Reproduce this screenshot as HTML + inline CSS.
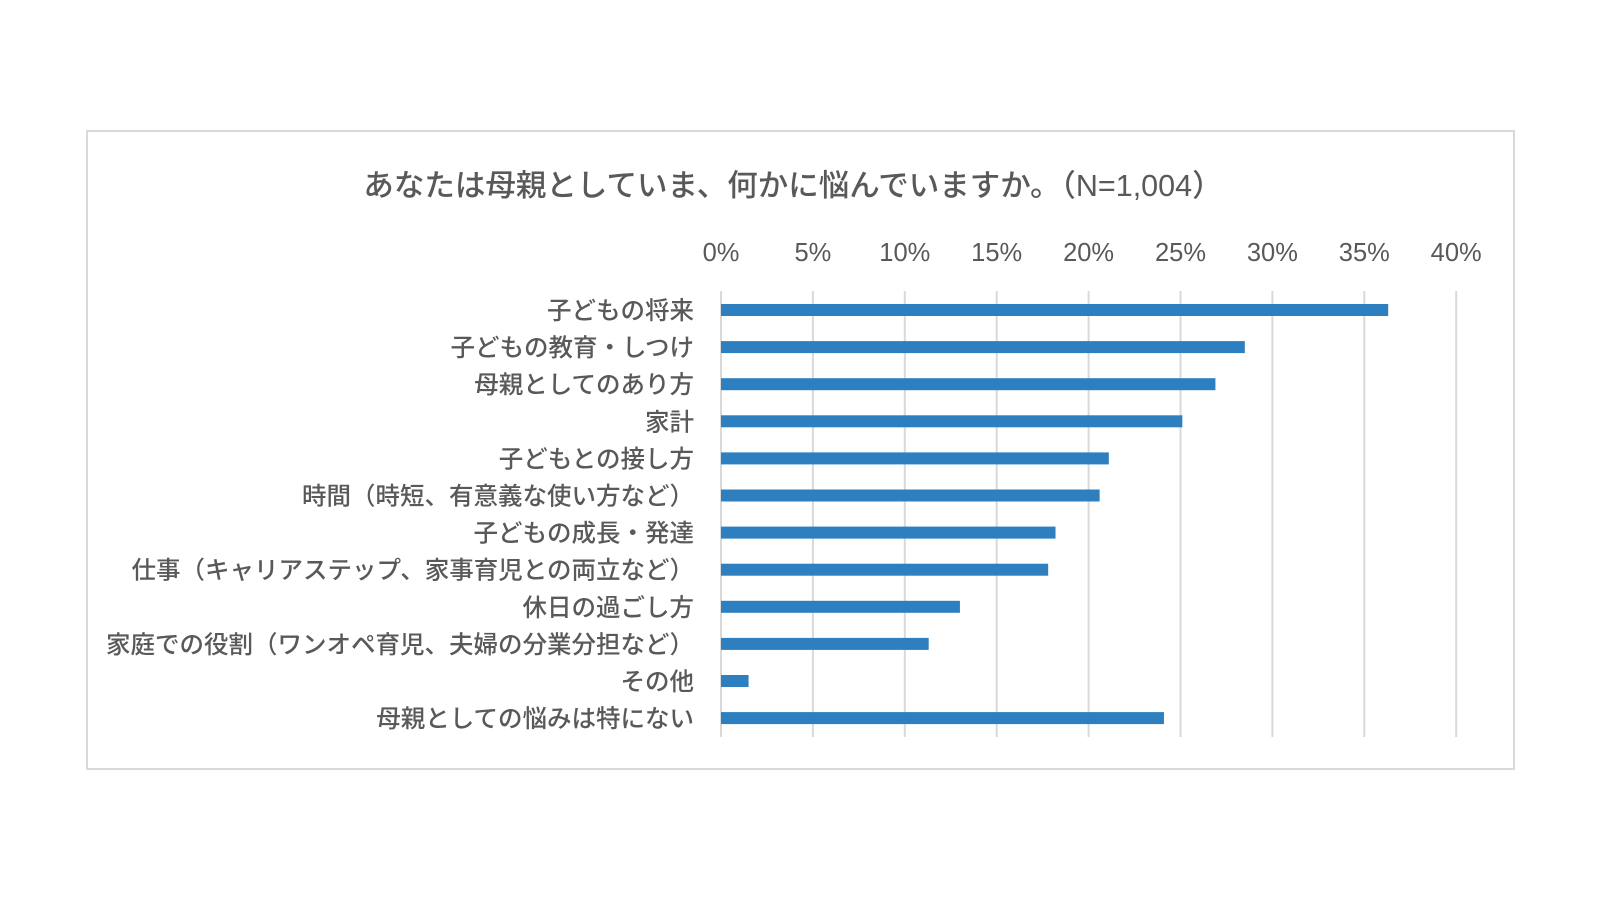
<!DOCTYPE html>
<html><head><meta charset="utf-8"><style>
html,body{margin:0;padding:0;background:#fff;}
body{width:1600px;height:900px;position:relative;overflow:hidden;font-family:"Liberation Sans","Noto Sans CJK JP",sans-serif;}
#frame{position:absolute;left:86px;top:130px;width:1429px;height:640px;border:2px solid #d9d9d9;box-sizing:border-box;}
text{font-family:"Liberation Sans","Noto Sans CJK JP",sans-serif;}
</style></head><body>
<div id="frame"></div>
<svg id="chart" width="1600" height="900" style="position:absolute;left:0;top:0">
<text x="793" y="196" text-anchor="middle" font-size="30.5" font-weight="500" fill="#595959">あなたは母親としていま、何かに悩んでいますか。（N=1,004）</text>
</svg>
<script>
const categories=["子どもの将来","子どもの教育・しつけ","母親としてのあり方","家計","子どもとの接し方","時間（時短、有意義な使い方など）","子どもの成長・発達","仕事（キャリアステップ、家事育児との両立など）","休日の過ごし方","家庭での役割（ワンオペ育児、夫婦の分業分担など）","その他","母親としての悩みは特にない"];
const values=[36.3,28.5,26.9,25.1,21.1,20.6,18.2,17.8,13.0,11.3,1.5,24.1];
const ticks=[0,5,10,15,20,25,30,35,40];
const tickLabels=["0%","5%","10%","15%","20%","25%","30%","35%","40%"];
const svg=document.getElementById('chart');const NS="http://www.w3.org/2000/svg";
const x0=721,pxPer=18.38,yTop=291,rowH=37.1,firstC=310;
const xs=v=>x0+v*pxPer;const yc=i=>firstC+i*rowH;
function mk(t,a){const e=document.createElementNS(NS,t);for(const k in a)e.setAttribute(k,a[k]);svg.appendChild(e);return e;}
ticks.forEach((t,i)=>{
 const l=mk('line',{x1:xs(t),x2:xs(t),y1:yTop,y2:737,stroke:'#d9d9d9','stroke-width':2});
 
 
 const tx=mk('text',{x:xs(t),y:261,'text-anchor':'middle','font-size':25.5,'font-weight':500,fill:'#595959'});
 tx.textContent=tickLabels[i];
 
 
});
categories.forEach((c,i)=>{
 const r=mk('rect',{x:x0,y:yc(i)-6,width:xs(values[i])-x0,height:12,fill:'#2e7fc0'});
 
 
 const t=mk('text',{x:694,y:yc(i)+9,'text-anchor':'end','font-size':24.5,'font-weight':500,fill:'#595959'});
 t.textContent=c;
 
 
});
</script>
</body></html>
